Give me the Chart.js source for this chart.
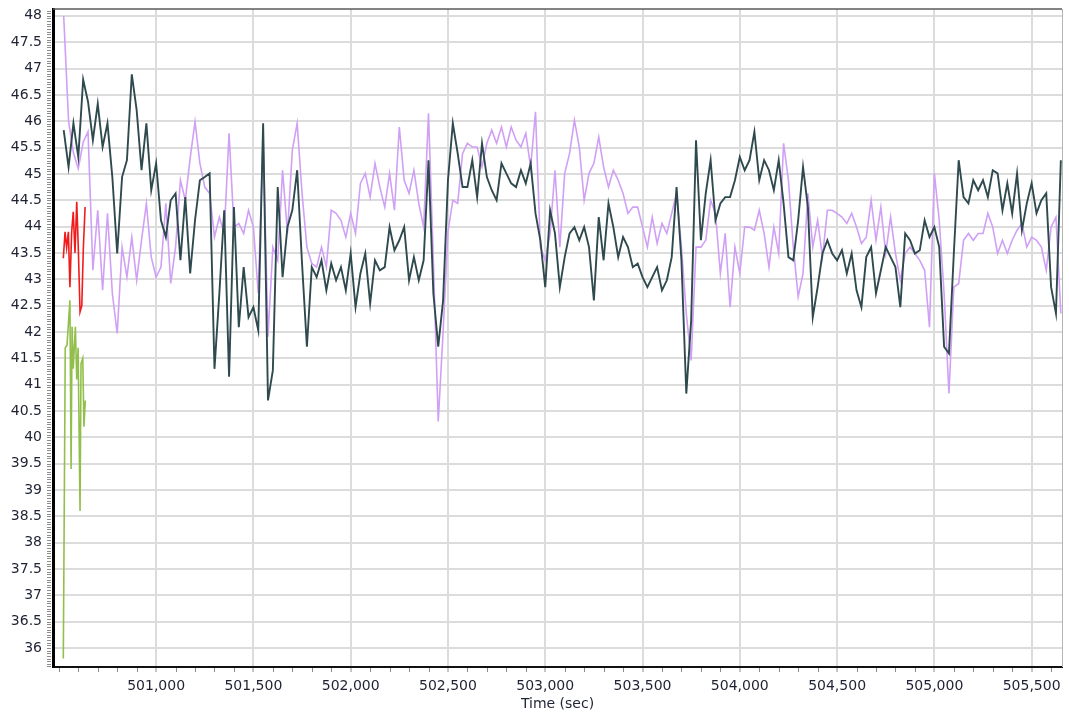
<!DOCTYPE html>
<html>
<head>
<meta charset="utf-8">
<script src="https://cdn.jsdelivr.net/npm/chart.js@4/dist/chart.umd.min.js"></script>
<style>
  html, body { margin: 0; padding: 0; background: #fff; }
  #wrap { width: 1069px; height: 716px; }
</style>
</head>
<body>
<div id="wrap"><canvas id="chart"></canvas></div>
<script>
// axis range (sec / value)
const X_MIN = 500470;
const X_MAX = 505656;
const Y_MIN = 35.64;
const Y_MAX = 48.13;
const xTicks = [501000, 501500, 502000, 502500, 503000, 503500, 504000, 504500, 505000, 505500];

// the two long traces are sampled every 25 s from 500,525
const SAMPLE_START = 500525;
const SAMPLE_STEP = 25;

const darkValues = [
  45.83, 45.13, 45.96, 45.32, 46.79, 46.37, 45.64, 46.33, 45.51, 45.96,
  44.94, 43.49, 44.94, 45.26, 46.89, 46.21, 45.07, 45.96, 44.69, 45.20,
  44.12, 43.80, 44.50, 44.63, 43.36, 44.56, 43.11, 44.12, 44.88, 44.94,
  45.01, 41.30, 42.73, 44.31, 41.15, 44.37, 42.09, 43.23, 42.28, 42.47,
  42.03, 45.96, 40.70, 41.27, 44.75, 43.04, 43.99, 44.31, 45.07, 43.30,
  41.72, 43.23, 43.04, 43.36, 42.79, 43.30, 42.98, 43.23, 42.79, 43.49,
  42.47, 43.11, 43.49, 42.54, 43.36, 43.17, 43.23, 43.99,
  43.55, 43.74, 43.99, 42.98, 43.42, 42.98, 43.36, 45.26, 42.73, 41.72,
  42.60, 44.88, 45.96, 45.39, 44.75, 44.75, 45.26, 44.56, 45.58, 44.94,
  44.69, 44.50, 45.20, 45.01, 44.82, 44.75, 45.07, 44.82, 45.20, 44.25,
  43.74, 42.85, 44.31, 43.87, 42.85, 43.42, 43.87, 43.99, 43.74, 43.99,
  43.61, 42.60, 44.18, 43.36, 44.44, 43.99, 43.42, 43.80, 43.61, 43.23,
  43.30, 43.04, 42.85, 43.04, 43.23, 42.79, 42.98, 43.42, 44.75, 43.36,
  40.83, 42.22, 45.64, 43.74, 44.63, 45.26, 44.12, 44.44,
  44.56, 44.56, 44.88, 45.32, 45.07, 45.26, 45.80, 44.88, 45.26, 45.07,
  44.69, 45.26, 44.44, 43.42, 43.36, 44.12, 45.13, 44.37, 42.28, 42.85,
  43.49, 43.74, 43.49, 43.36, 43.55, 43.11, 43.49, 42.79, 42.47, 43.42,
  43.61, 42.73, 43.17, 43.61, 43.42, 43.23, 42.47, 43.87, 43.74, 43.49,
  43.55, 44.12, 43.80, 43.99, 43.61, 41.72, 41.59, 43.49, 45.26, 44.56,
  44.44, 44.88, 44.69, 44.88, 44.56, 45.07, 45.01, 44.31, 44.82, 44.25,
  45.01, 43.93, 44.44, 44.82, 44.25, 44.50, 44.63, 42.85, 42.35, 45.26
];

const lavenderValues = [
  48.00, 46.00, 45.40, 45.10, 45.60, 45.80, 43.17, 44.31, 42.79, 44.25,
  42.73, 41.97, 43.61, 43.04, 43.80, 42.98, 43.74, 44.44, 43.42, 43.04,
  43.23, 44.44, 42.92, 43.61, 44.88, 44.50, 45.30, 45.99, 45.20, 44.75,
  44.63, 43.80, 44.18, 43.87, 45.77, 43.99, 44.06, 43.87, 44.31, 43.99,
  42.73, 45.70, 41.91, 43.61, 43.36, 45.07, 43.87, 45.45, 45.96, 44.63,
  43.61, 43.30, 43.23, 43.61, 43.23, 44.31, 44.25, 44.12, 43.80, 44.25,
  43.87, 44.82, 45.01, 44.56, 45.20, 44.75, 44.37, 45.01,
  44.31, 45.89, 44.88, 44.63, 45.07, 44.44, 43.99, 46.15, 43.36, 40.30,
  42.00, 43.90, 44.50, 44.44, 45.39, 45.58, 45.51, 45.51, 45.13, 45.58,
  45.83, 45.58, 45.89, 45.51, 45.89, 45.64, 45.51, 45.77, 45.13, 46.18,
  43.61, 43.36, 43.87, 45.07, 43.61, 45.01, 45.39, 46.02, 45.51, 44.50,
  45.01, 45.20, 45.70, 45.13, 44.75, 45.07, 44.88, 44.63, 44.25, 44.37,
  44.37, 43.99, 43.61, 44.18, 43.68, 44.06, 43.87, 44.25, 44.63, 43.61,
  42.35, 41.46, 43.61, 43.61, 43.74, 44.50, 44.25, 43.11,
  43.87, 42.47, 43.61, 43.11, 43.99, 43.99, 43.93, 44.31, 43.87, 43.23,
  43.99, 43.49, 45.58, 44.88, 43.61, 42.67, 43.11, 44.63, 43.61, 44.12,
  43.42, 44.31, 44.31, 44.25, 44.18, 44.06, 44.25, 43.99, 43.68, 43.80,
  44.50, 43.74, 44.37, 43.49, 44.18, 43.49, 42.98, 43.49, 43.61, 43.49,
  43.36, 43.17, 42.09, 45.01, 44.12, 42.73, 40.83, 42.85, 42.92, 43.74,
  43.87, 43.74, 43.87, 43.87, 44.25, 43.99, 43.49, 43.74, 43.49, 43.74,
  43.93, 44.06, 43.61, 43.80, 43.74, 43.61, 43.17, 43.99, 44.18, 42.35
];

// short traces at the very start
const redTimes = [500523, 500532, 500540, 500549, 500557, 500566, 500574,
                  500583, 500592, 500600, 500609, 500618, 500626, 500635];
const redValues = [43.4, 43.9, 43.6, 43.9, 42.85, 43.9, 44.28,
                   43.5, 44.47, 43.6, 42.38, 42.5, 43.6, 44.37];

const greenTimes = [500523, 500533, 500542, 500557, 500563, 500568, 500574, 500585,
                    500592, 500599, 500609, 500614, 500623, 500629, 500636];
const greenValues = [35.8, 41.7, 41.75, 42.6, 39.4, 42.1, 41.3, 42.1,
                     41.1, 41.7, 38.6, 41.4, 41.5, 40.2, 40.7];

const FONT = { family: 'DejaVu Sans', size: 14 };
const TEXT_COLOR = '#1f2233';

function sampled(values) {
  return values.map((v, i) => ({ x: SAMPLE_START + i * SAMPLE_STEP, y: v }));
}
function paired(times, values) {
  return times.map((t, i) => ({ x: t, y: values[i] }));
}

// keep the plot box where the layout padding puts it
function noScalePadding(s) {
  s.paddingTop = 0;
  s.paddingBottom = 0;
  s.paddingLeft = 0;
  s.paddingRight = 0;
}

// minor ticks along both axes + the thin frame on top / right
const axisDecor = {
  id: 'axisDecor',
  afterDraw(chart) {
    const { ctx, chartArea: a, scales: { x, y } } = chart;
    ctx.save();
    ctx.strokeStyle = '#8c8c8c';
    ctx.lineWidth = 1;
    ctx.beginPath();
    for (let k = Math.ceil(Y_MIN * 20); k <= Math.floor(Y_MAX * 20); k++) {
      const py = Math.round(y.getPixelForValue(k / 20)) + 0.5;
      ctx.moveTo(a.left - 6, py);
      ctx.lineTo(a.left - 2, py);
    }
    for (let t = Math.ceil(X_MIN / 100) * 100; t <= X_MAX; t += 100) {
      if (xTicks.includes(t)) continue;
      const px = Math.round(x.getPixelForValue(t)) + 0.5;
      ctx.moveTo(px, a.bottom + 1);
      ctx.lineTo(px, a.bottom + 5);
    }
    ctx.stroke();

    ctx.strokeStyle = '#5a5a5a';
    ctx.lineWidth = 1.5;
    ctx.beginPath();
    ctx.moveTo(a.left, a.top);
    ctx.lineTo(a.right, a.top);
    ctx.stroke();
    ctx.strokeStyle = '#b4b4b4';
    ctx.lineWidth = 1;
    ctx.beginPath();
    ctx.moveTo(a.right + 0.5, a.top);
    ctx.lineTo(a.right + 0.5, a.bottom);
    ctx.stroke();
    ctx.restore();
  }
};

new Chart(document.getElementById('chart'), {
  type: 'line',
  data: {
    datasets: [
      { label: 'Red', data: paired(redTimes, redValues), borderColor: '#f01c1c', borderWidth: 1.6 },
      { label: 'Green', data: paired(greenTimes, greenValues), borderColor: '#92bf4c', borderWidth: 1.6 },
      { label: 'Dark', data: sampled(darkValues), borderColor: '#2f4a4f', borderWidth: 1.9 },
      { label: 'Lavender', data: sampled(lavenderValues), borderColor: '#d0a0f6', borderWidth: 1.6 }
    ]
  },
  options: {
    responsive: true,
    maintainAspectRatio: false,
    animation: false,
    parsing: false,
    layout: { padding: { top: 9, right: 7, left: 0, bottom: 0 } },
    elements: {
      point: { radius: 0 },
      line: { tension: 0, fill: false }
    },
    plugins: {
      legend: { display: false },
      tooltip: { enabled: false }
    },
    scales: {
      x: {
        type: 'linear',
        min: X_MIN,
        max: X_MAX,
        afterFit: s => { s.height = 49; noScalePadding(s); },
        afterBuildTicks: s => { s.ticks = xTicks.map(v => ({ value: v })); },
        ticks: {
          autoSkip: false,
          maxRotation: 0,
          padding: 6,
          color: TEXT_COLOR,
          font: FONT,
          callback: v => v.toLocaleString('en-US')
        },
        grid: { color: '#dcdcdc', lineWidth: 2, tickLength: 5, tickColor: '#8c8c8c', tickWidth: 1 },
        border: { color: '#111', width: 2 },
        title: {
          display: true,
          text: 'Time (sec)',
          color: TEXT_COLOR,
          font: FONT,
          padding: { top: 0, bottom: 3 }
        }
      },
      y: {
        type: 'linear',
        min: Y_MIN,
        max: Y_MAX,
        afterFit: s => { s.width = 53; noScalePadding(s); },
        ticks: {
          stepSize: 0.5,
          includeBounds: false,
          padding: 11,
          color: TEXT_COLOR,
          font: FONT,
          callback: v => String(v)
        },
        grid: { color: '#dcdcdc', lineWidth: 2, drawTicks: false },
        border: { color: '#000', width: 3 }
      }
    }
  },
  plugins: [axisDecor]
});
</script>
</body>
</html>
